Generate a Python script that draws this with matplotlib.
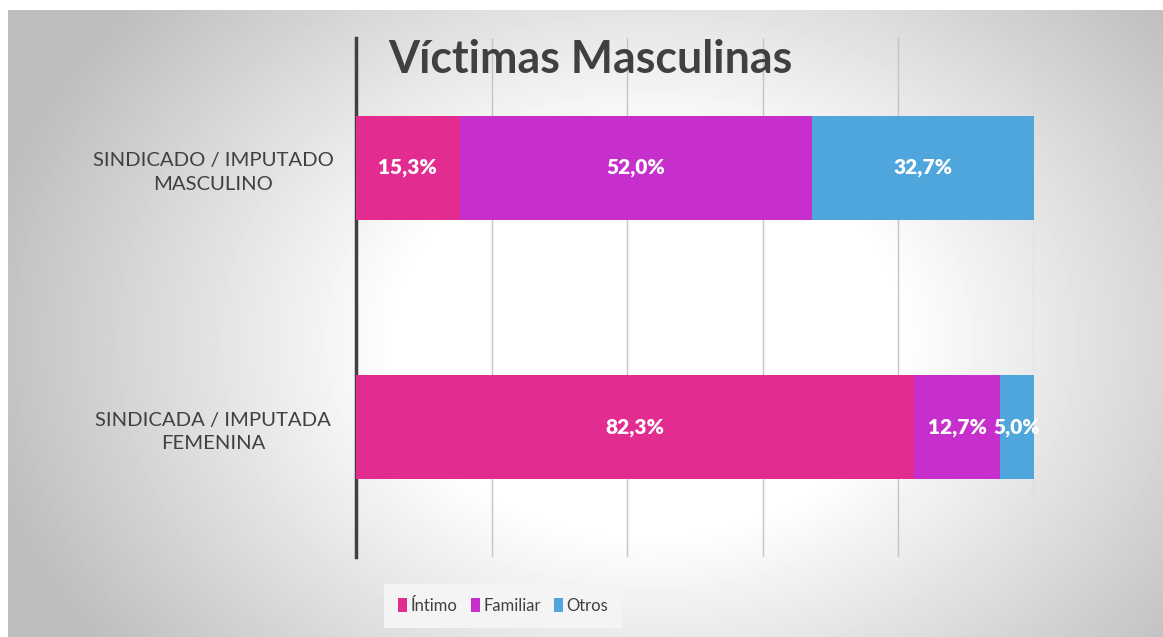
import numpy as np
from matplotlib import pyplot as plt
from matplotlib.patches import Patch

plt.rcParams['font.family'] = ['Lato', 'DejaVu Sans']

categories = ['SINDICADO / IMPUTADO\nMASCULINO', 'SINDICADA / IMPUTADA\nFEMENINA']
series_names = ['Íntimo', 'Familiar', 'Otros']
intimo = [15.3, 82.3]
familiar = [52.0, 12.7]
otros = [32.7, 5.0]
colors = ['#E32C8F', '#C62FCB', '#4EA6DC']
title = 'Víctimas Masculinas'

W, H = 1163, 637
fig = plt.figure(figsize=(W / 100, H / 100), dpi=100)
fig.patch.set_facecolor('white')

# radial grey gradient behind the chart
bg = fig.add_axes([8 / W, 0, (W - 8) / W, (H - 10) / H])
yy, xx = np.mgrid[0:627, 0:1155]
d = np.hypot((xx - 640) / 600.0, (yy - 330) / 460.0)
shade = np.clip((d - 0.42) / 0.72, 0, 1)
grey = 1 - 0.26 * shade
bg.imshow(grey, cmap='gray', vmin=0, vmax=1, aspect='auto', interpolation='bilinear')
bg.axis('off')

ax = fig.add_axes([356 / W, (H - 557) / H, (1034 - 356) / W, (557 - 38) / H])
ax.set_facecolor('none')

y = np.arange(len(categories))
left = np.zeros(len(categories))
for name, vals, c in zip(series_names, [intimo, familiar, otros], colors):
    bars = ax.barh(y, vals, left=left, height=0.4, color=c, label=name, zorder=3)
    for b, v in zip(bars, vals):
        ax.text(b.get_x() + b.get_width() / 2, b.get_y() + b.get_height() / 2,
                f'{v:.1f}%'.replace('.', ','), ha='center', va='center',
                color='white', fontsize=15, fontweight='heavy', zorder=4)
    left += np.array(vals)

ax.set_xlim(0, 100)
ax.set_ylim(-0.5, 1.5)
ax.invert_yaxis()
ax.set_xticks(np.arange(0, 101, 20))
ax.xaxis.grid(True, color='#c4c4c4', lw=1, zorder=0)
ax.tick_params(axis='x', length=0, labelbottom=False)
ax.set_yticks(y)
ax.set_yticklabels(categories, fontsize=14.6, color='#404040', ha='center',
                   linespacing=1.45)
ax.tick_params(axis='y', length=0, pad=0)
for lbl in ax.get_yticklabels():
    lbl.set_x(-143 / 678)
for s in ['top', 'right', 'bottom']:
    ax.spines[s].set_visible(False)
ax.spines['left'].set_color('#404040')
ax.spines['left'].set_linewidth(2.5)

fig.text(388 / W, 1 - 60 / H, title, fontsize=32.2, fontweight='bold',
         color='#404040', ha='left', va='center')

handles = [Patch(facecolor=c, label=n) for n, c in zip(series_names, colors)]
leg = fig.legend(handles=handles, loc='center', bbox_to_anchor=(503 / W, 1 - 606 / H),
                 ncol=3, fontsize=12, frameon=True, handlelength=0.55, handleheight=0.9,
                 handletextpad=0.2, columnspacing=0.8, borderpad=0.55)
leg.get_frame().set_facecolor('#f4f4f4')
leg.get_frame().set_edgecolor('none')
leg.get_frame().set_boxstyle('square')
leg.get_frame().set_alpha(1)
for t in leg.get_texts():
    t.set_color('#404040')

fig.savefig('out.png', dpi=100)
